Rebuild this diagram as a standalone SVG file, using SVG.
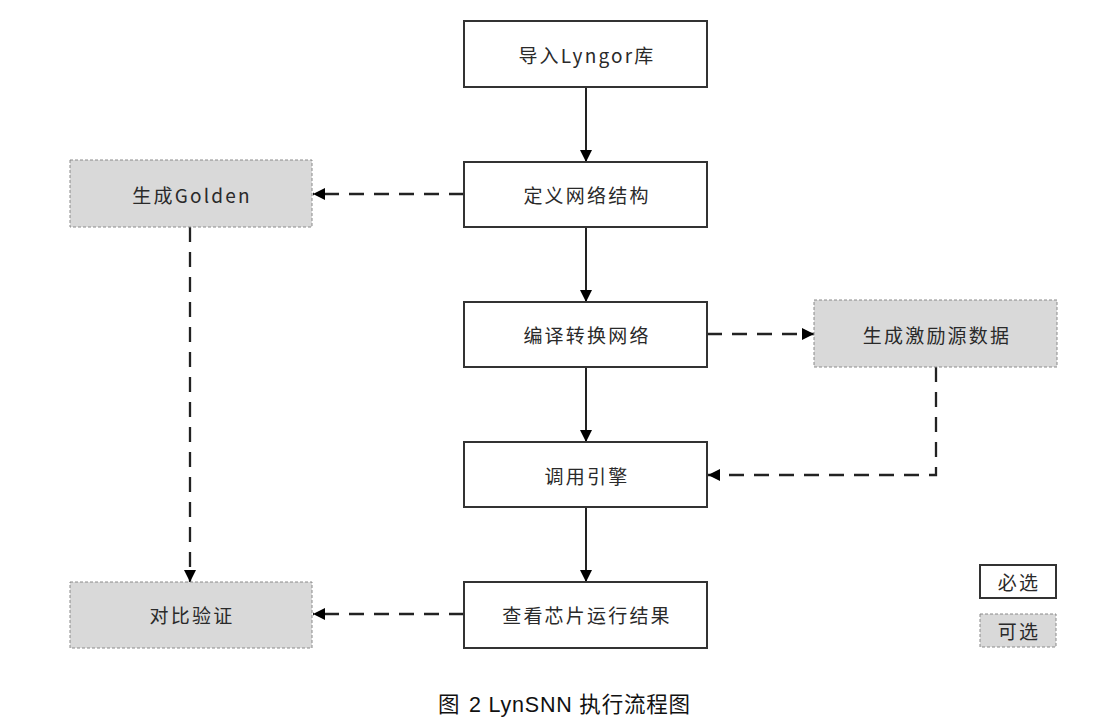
<svg xmlns="http://www.w3.org/2000/svg" width="1107" height="723" viewBox="0 0 1107 723">
<style>
.req{fill:#fff;stroke:#333;stroke-width:2}
.opt{fill:#d9d9d9;stroke:#8a8a8a;stroke-width:1;stroke-dasharray:3 2}
.t{font-family:"Noto Sans CJK SC","Liberation Sans",sans-serif;font-size:19px;letter-spacing:2.2px;fill:#2a2a2a;text-anchor:middle;dominant-baseline:central}
.solid{fill:none;stroke:#222;stroke-width:2}
.dash{fill:none;stroke:#222;stroke-width:2.3;stroke-dasharray:15 10}
.cap{font-family:"Liberation Sans","Noto Sans CJK SC",sans-serif;font-size:21.5px;letter-spacing:0.8px;fill:#111}
</style>
<defs>
<marker id="ah" viewBox="0 0 12 12" refX="12" refY="6" markerWidth="12" markerHeight="12" markerUnits="userSpaceOnUse" orient="auto">
<path d="M0,0 L12,6 L0,12 Z" fill="#000"/>
</marker>
</defs>
<rect width="1107" height="723" fill="#fff"/>
<g id="connectors">
<line class="solid" x1="586" y1="87" x2="586" y2="162" marker-end="url(#ah)"/>
<line class="solid" x1="586" y1="227" x2="586" y2="302" marker-end="url(#ah)"/>
<line class="solid" x1="586" y1="367" x2="586" y2="442" marker-end="url(#ah)"/>
<line class="solid" x1="586" y1="507" x2="586" y2="582" marker-end="url(#ah)"/>
<line class="dash" x1="464" y1="194" x2="313" y2="194" marker-end="url(#ah)"/>
<line class="dash" x1="707" y1="334" x2="814" y2="334" marker-end="url(#ah)"/>
<polyline class="dash" points="936,367 936,475 708,475" marker-end="url(#ah)"/>
<line class="dash" x1="190" y1="227" x2="190" y2="582" marker-end="url(#ah)"/>
<line class="dash" x1="464" y1="614" x2="313" y2="614" marker-end="url(#ah)"/>
</g>
<g id="n1"><rect class="req" x="464" y="21" width="243" height="66"/><text class="t" x="587" y="54">导入Lyngor库</text></g>
<g id="n2"><rect class="req" x="464" y="162" width="243" height="65"/><text class="t" x="587" y="194">定义网络结构</text></g>
<g id="n3"><rect class="req" x="464" y="302" width="243" height="65"/><text class="t" x="587" y="334">编译转换网络</text></g>
<g id="n4"><rect class="req" x="464" y="442" width="243" height="65"/><text class="t" x="587" y="475">调用引擎</text></g>
<g id="n5"><rect class="req" x="464" y="582" width="243" height="66"/><text class="t" x="587" y="614">查看芯片运行结果</text></g>
<g id="golden"><rect class="opt" x="70" y="160" width="242" height="67"/><text class="t" x="192" y="194">生成Golden</text></g>
<g id="stim"><rect class="opt" x="814" y="300" width="243" height="67"/><text class="t" x="937" y="334">生成激励源数据</text></g>
<g id="verify"><rect class="opt" x="70" y="582" width="242" height="66"/><text class="t" x="192" y="614">对比验证</text></g>
<g id="legend-req"><rect class="req" x="980" y="565" width="76" height="33"/><text class="t" x="1019" y="581">必选</text></g>
<g id="legend-opt"><rect class="opt" x="980" y="614" width="76" height="33"/><text class="t" x="1019" y="630">可选</text></g>
<text class="cap" x="438" y="712">图<tspan x="469">2 LynSNN 执行流程图</tspan></text>
</svg>
